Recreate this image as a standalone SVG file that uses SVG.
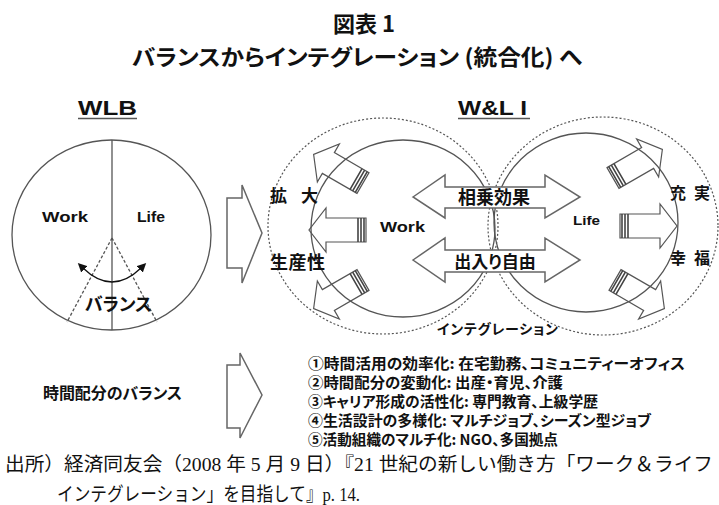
<svg xmlns="http://www.w3.org/2000/svg" xmlns:xlink="http://www.w3.org/1999/xlink" width="719" height="505" viewBox="0 0 719 505">
<style>
.j{font-family:"Noto Sans CJK JP","Liberation Sans",sans-serif;font-weight:bold;fill:#111;font-feature-settings:"palt" 1}
.l{font-family:"Liberation Sans","Noto Sans CJK JP",sans-serif;font-weight:bold;fill:#111}
.src{font-family:"Liberation Serif","Noto Sans CJK JP",serif;font-weight:normal;fill:#111;font-size:19px}
.ln{fill:none;stroke:#555;stroke-width:1.3}
.dot{fill:none;stroke:#555;stroke-width:1.2;stroke-dasharray:2 2}
.big{fill:#fff;stroke:#666;stroke-width:1.5}
.oa{fill:none;stroke:#555;stroke-width:1.2}
.st{fill:none;stroke:#444;stroke-width:1.6}
</style>
<defs>
<marker id="ah" viewBox="0 0 10 10" refX="2" refY="5" markerWidth="9" markerHeight="9" markerUnits="userSpaceOnUse" orient="auto-start-reverse">
<path d="M0,0 L10,5 L0,10 Z" fill="#111"/>
</marker>
<g id="sa">
<path class="oa" d="M0,-12 H40 V-22 L57,0 L40,22 V12 H0 Z"/>
<path class="st" d="M2,-12 V12 M5,-12 V12 M8,-12 V12"/>
</g>
</defs>

<g id="title">
<text class="j" x="364" y="32" font-size="22" text-anchor="middle">図表 1</text>
<text class="j" x="357" y="65" font-size="22" text-anchor="middle" textLength="450" lengthAdjust="spacingAndGlyphs">バランスからインテグレーション (統合化) へ</text>
</g>

<g id="wlb">
<text class="l" x="78" y="115" font-size="20" textLength="59" lengthAdjust="spacingAndGlyphs">WLB</text>
<line class="ln" x1="78" y1="118.5" x2="137" y2="118.5" stroke-width="1.6"/>
<ellipse class="ln" cx="111.5" cy="235" rx="99.5" ry="95"/>
<line class="ln" x1="112" y1="140" x2="112" y2="330"/>
<path class="ln" d="M112,238 L67,322 M112,238 L157,322" stroke-dasharray="3 2" stroke-width="1"/>
<path d="M83,268 Q112,296 141,268" fill="none" stroke="#111" stroke-width="1.3" marker-start="url(#ah)" marker-end="url(#ah)"/>
<text class="l" x="42" y="222" font-size="15" textLength="46" lengthAdjust="spacingAndGlyphs">Work</text>
<text class="l" x="137" y="222" font-size="15" textLength="28" lengthAdjust="spacingAndGlyphs">Life</text>
<text class="j" x="85" y="311" font-size="18" textLength="67">バランス</text>
</g>

<g id="connectors">
<path class="big" d="M227,198 H242 V185 L262,233 L242,283 V268 H227 Z"/>
<path class="big" d="M227,365 H240 V353 L262,395 L240,438 V428 H227 Z"/>
</g>

<g id="wli">
<text class="l" x="458" y="115" font-size="20" textLength="69" lengthAdjust="spacingAndGlyphs">W&amp;L I</text>
<line class="ln" x1="458" y1="118.5" x2="530" y2="118.5" stroke-width="1.6"/>
<ellipse class="dot" cx="383" cy="226" rx="115" ry="108"/>
<ellipse class="dot" cx="603" cy="226" rx="115" ry="109"/>
<ellipse class="ln" cx="403" cy="228.5" rx="92" ry="88.5"/>
<ellipse class="ln" cx="586" cy="222.5" rx="92" ry="89.5"/>
</g>

<g id="out-arrows">
<use xlink:href="#sa" transform="translate(363,183) rotate(210)"/>
<use xlink:href="#sa" transform="translate(366,230) rotate(180)"/>
<use xlink:href="#sa" transform="translate(363,280) rotate(150)"/>
<use xlink:href="#sa" transform="translate(613,178) rotate(-30)"/>
<use xlink:href="#sa" transform="translate(620,226)"/>
<use xlink:href="#sa" transform="translate(615,280) rotate(30)"/>
</g>

<g id="synergy">
<path class="big" stroke="#555" stroke-width="1.2" d="M413,197 L445,175 V187 H545 V175 L580,197 L545,218 V208 H445 V218 Z"/>
<text class="j" x="494" y="204" font-size="18" text-anchor="middle">相乗効果</text>
</g>
<g id="freedom">
<path class="big" stroke="#555" stroke-width="1.2" d="M413,260 L445,238 V250 H545 V238 L580,260 L545,282 V272 H445 V282 Z"/>
<text class="j" x="495" y="268" font-size="17" text-anchor="middle">出入り自由</text>
</g>

<g id="labels">
<text class="l" x="380" y="232" font-size="15" textLength="45" lengthAdjust="spacingAndGlyphs">Work</text>
<text class="l" x="573" y="225" font-size="13" font-weight="normal" textLength="27" lengthAdjust="spacingAndGlyphs">Life</text>
<text class="j" x="270" y="202" font-size="17" textLength="48">拡 大</text>
<text class="j" x="270" y="269" font-size="18" textLength="55">生産性</text>
<text class="j" x="670" y="199" font-size="16" textLength="40">充 実</text>
<text class="j" x="670" y="264" font-size="16" textLength="40">幸 福</text>
<text class="j" x="437" y="334" font-size="14" textLength="121">インテグレーション</text>
</g>

<g id="time-balance">
<text class="j" x="43" y="399" font-size="16" textLength="139">時間配分のバランス</text>
</g>

<g id="list">
<text class="j" x="308" y="369" font-size="14.5" textLength="377" lengthAdjust="spacingAndGlyphs">①時間活用の効率化: 在宅勤務、コミュニティーオフィス</text>
<text class="j" x="308" y="388" font-size="14.5" textLength="255" lengthAdjust="spacingAndGlyphs">②時間配分の変動化: 出産・育児、介護</text>
<text class="j" x="308" y="407" font-size="14.5" textLength="290" lengthAdjust="spacingAndGlyphs">③キャリア形成の活性化: 専門教育、上級学歴</text>
<text class="j" x="308" y="426" font-size="14.5" textLength="343" lengthAdjust="spacingAndGlyphs">④生活設計の多様化: マルチジョブ、シーズン型ジョブ</text>
<text class="j" x="308" y="445" font-size="14.5" textLength="250" lengthAdjust="spacingAndGlyphs">⑤活動組織のマルチ化: NGO、多国拠点</text>
</g>

<g id="source">
<text class="src" x="5" y="471" textLength="708" lengthAdjust="spacingAndGlyphs">出所）経済同友会（2008 年 5 月 9 日）『21 世紀の新しい働き方「ワーク＆ライフ</text>
<text class="src" x="57" y="501" textLength="303" lengthAdjust="spacingAndGlyphs">インテグレーション」を目指して』p. 14.</text>
</g>
</svg>
